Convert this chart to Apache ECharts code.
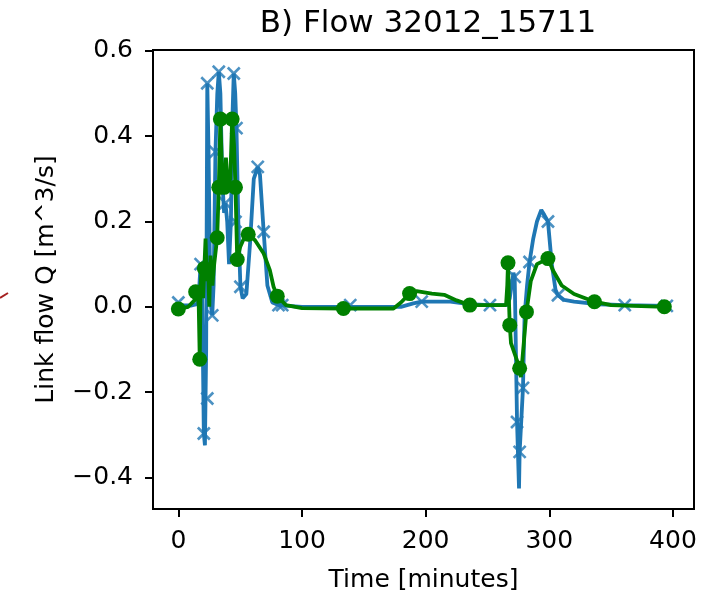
<!DOCTYPE html>
<html>
<head>
<meta charset="utf-8">
<script src="https://cdn.jsdelivr.net/npm/echarts@6/dist/echarts.min.js"></script>
<style>
  html, body { margin: 0; padding: 0; background: #fff; }
  #chart { width: 726px; height: 593px; }
</style>
</head>
<body>
<div id="chart"></div>
<script>
// blue curve (dense line) and its x markers
const blueX = [0, 10, 15, 17, 18, 19, 20, 20.6, 21.5, 22.5, 23.4, 24.5, 25.5, 26.5, 27.4, 28.5, 30, 31.5, 32.7, 34, 35.5, 37, 38.1, 39.5, 41, 42.5, 43.8, 44.8, 46, 47, 48.5, 50.2, 52, 55, 58, 61, 64.2, 66, 69, 72, 76, 81, 100, 139, 180, 190, 196.8, 220, 235, 252, 266, 268, 271, 272, 273.9, 275.5, 276, 278.7, 280, 282, 284, 287, 290, 293.5, 296, 298.9, 302, 305, 307, 312, 320, 340, 361, 395];
const blueY = [0.003, 0.003, 0.006, 0.05, 0.1, 0.06, -0.15, -0.297, -0.325, -0.1, 0.524, 0.35, 0.1, 0.0, -0.02, 0.05, 0.363, 0.5, 0.551, 0.5, 0.3, 0.22, 0.243, 0.2, 0.1, 0.2, 0.45, 0.547, 0.5, 0.419, 0.2, 0.047, 0.02, 0.03, 0.15, 0.3, 0.328, 0.31, 0.176, 0.05, 0.01, 0.004, 0.0, 0.0, 0.0, 0.008, 0.012, 0.012, 0.006, 0.004, 0.004, 0.02, 0.08, 0.07, -0.27, -0.426, -0.34, -0.19, -0.02, 0.05, 0.105, 0.16, 0.2, 0.227, 0.215, 0.2, 0.1, 0.04, 0.027, 0.016, 0.012, 0.006, 0.004, 0.002];
const blueMarkX = [0, 18, 20.6, 23.4, 23.4, 27.4, 30, 32.7, 38.1, 44.8, 46.2, 47, 50.2, 64.2, 69, 81, 84, 139, 196.8, 252, 272, 273.9, 276, 278.7, 284, 298.9, 307, 361, 395];
const blueMarkY = [0.01, 0.1, -0.297, -0.215, 0.524, -0.02, 0.363, 0.551, 0.243, 0.547, 0.199, 0.419, 0.047, 0.328, 0.176, 0.004, 0.004, 0.004, 0.012, 0.004, 0.07, -0.27, -0.34, -0.19, 0.105, 0.2, 0.027, 0.004, 0.002];

// green curve and its circle markers
const greenX = [0, 8, 13, 14, 15.5, 16.5, 17.3, 18, 19, 20, 21, 22, 23, 24, 25, 26, 27.5, 29, 31.4, 32.7, 34, 35.5, 37, 38.5, 40, 42, 43.5, 45, 46.2, 47.6, 50, 53, 56.5, 62, 69, 74, 77, 80, 87, 100, 133.5, 174, 180, 187, 192.7, 205, 215, 225, 235.7, 265, 266, 266.6, 267.5, 268, 269, 276, 277, 281.5, 285, 290, 298.9, 303, 310, 320, 336.5, 350, 393];
const greenY = [-0.005, 0.0, 0.015, 0.035, 0.04, 0.0, -0.123, 0.05, 0.1, 0.02, 0.09, 0.16, 0.06, 0.1, 0.0, 0.12, 0.05, 0.1, 0.162, 0.28, 0.44, 0.3, 0.28, 0.35, 0.28, 0.3, 0.44, 0.38, 0.28, 0.111, 0.14, 0.16, 0.17, 0.156, 0.125, 0.086, 0.047, 0.025, 0.004, -0.003, -0.004, -0.004, 0.01, 0.031, 0.037, 0.031, 0.028, 0.015, 0.004, 0.004, 0.05, 0.103, 0.0, -0.043, -0.085, -0.144, -0.165, -0.012, 0.06, 0.1, 0.113, 0.085, 0.05, 0.03, 0.012, 0.004, 0.0];
const greenMarkX = [0, 14, 17.3, 21, 31.4, 32.7, 34, 37, 43.5, 46.2, 47.6, 56.5, 80, 133.5, 187, 235.7, 266.6, 268, 276, 281.5, 298.9, 336.5, 393];
const greenMarkY = [-0.005, 0.035, -0.123, 0.09, 0.162, 0.28, 0.44, 0.28, 0.44, 0.28, 0.111, 0.17, 0.025, -0.004, 0.031, 0.004, 0.103, -0.043, -0.144, -0.012, 0.113, 0.012, 0.0];

const xTicks = [0, 100, 200, 300, 400];
const yTicks = [-0.4, -0.2, 0.0, 0.2, 0.4, 0.6];

const zip = (xs, ys) => xs.map((x, i) => [x, ys[i]]);
const font = 'DejaVu Sans';

const chart = echarts.init(document.getElementById('chart'));
chart.setOption({
  animation: false,
  title: {
    text: 'B) Flow 32012_15711',
    left: 423,
    top: 3,
    textAlign: 'center',
    textStyle: { fontFamily: font, fontSize: 31, fontWeight: 'normal', color: '#000' }
  },
  grid: {
    left: 153, right: 32, top: 50, bottom: 84,
    outerBoundsMode: 'none',
    show: true, borderColor: '#000', borderWidth: 2, backgroundColor: '#fff'
  },
  xAxis: {
    type: 'value', min: -20.5, max: 417,
    splitLine: { show: false },
    axisLine: { show: false, onZero: false },
    axisTick: { show: true, customValues: xTicks, length: 8, lineStyle: { color: '#000', width: 2 } },
    axisLabel: { customValues: xTicks, margin: 20, color: '#000', fontFamily: font, fontSize: 25 },
    name: 'Time [minutes]',
    nameLocation: 'middle',
    nameGap: 59,
    nameTextStyle: { fontFamily: font, fontSize: 25, color: '#000' }
  },
  yAxis: {
    type: 'value', min: -0.474, max: 0.602,
    splitLine: { show: false },
    axisLine: { show: false, onZero: false },
    axisTick: { show: true, customValues: yTicks, length: 8, lineStyle: { color: '#000', width: 2 } },
    axisLabel: {
      customValues: yTicks, margin: 20, color: '#000', fontFamily: font, fontSize: 25,
      formatter: v => v.toFixed(1).replace('-', '\u2212')
    },
    name: 'Link flow Q [m^3/s]',
    nameLocation: 'middle',
    nameGap: 94,
    nameTextStyle: { fontFamily: font, fontSize: 25, color: '#000' }
  },
  graphic: [{
    type: 'line',
    shape: { x1: 0, y1: 298, x2: 8, y2: 293 },
    style: { stroke: '#a52020', lineWidth: 2 }
  }],
  series: [
    {
      type: 'line', data: zip(blueX, blueY), symbol: 'none',
      lineStyle: { color: '#1f77b4', width: 3.8 }, z: 2
    },
    {
      type: 'scatter', data: zip(blueMarkX, blueMarkY),
      symbol: 'path://M0 0L10 10M10 0L0 10', symbolSize: 12,
      itemStyle: { color: 'rgba(0,0,0,0)', borderColor: '#1f77b4', borderWidth: 2.6 }, z: 3
    },
    {
      type: 'line', data: zip(greenX, greenY), symbol: 'none',
      lineStyle: { color: '#008000', width: 3.8 }, z: 4
    },
    {
      type: 'scatter', data: zip(greenMarkX, greenMarkY),
      symbol: 'circle', symbolSize: 15,
      itemStyle: { color: '#008000', opacity: 1 }, z: 5
    }
  ]
});
</script>
</body>
</html>
